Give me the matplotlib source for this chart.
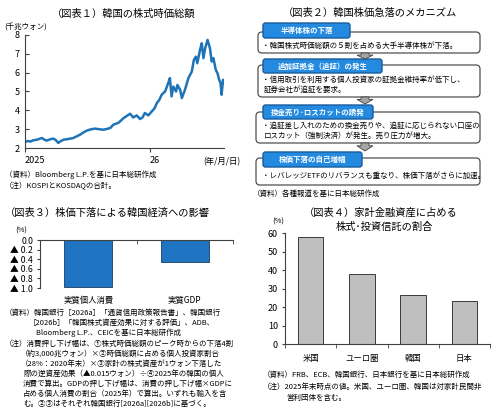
import matplotlib
matplotlib.use("Agg")
import matplotlib.pyplot as plt
from matplotlib.patches import FancyBboxPatch, Polygon
import pandas as pd

plt.rcParams['font.family'] = ['Noto Sans CJK JP', 'DejaVu Sans']
plt.rcParams['axes.linewidth'] = 0.8

# (図表1) 韓国の株式時価総額 (千兆ウォン)
cap_dates = [
    "2025-01-02", "2025-01-10", "2025-01-17", "2025-01-25", "2025-02-05", "2025-02-19",
    "2025-02-26", "2025-03-05", "2025-03-15", "2025-03-25", "2025-04-01", "2025-04-08",
    "2025-04-15", "2025-04-23", "2025-05-05", "2025-05-22", "2025-06-11", "2025-06-20",
    "2025-06-30", "2025-07-10", "2025-07-24", "2025-08-05", "2025-08-18", "2025-09-01",
    "2025-09-08", "2025-09-16", "2025-09-30", "2025-10-08", "2025-10-15", "2025-10-25",
    "2025-11-04", "2025-11-13", "2025-11-23", "2025-12-03", "2025-12-10", "2025-12-17",
    "2025-12-27", "2026-01-06", "2026-01-14", "2026-01-21", "2026-01-28", "2026-02-04",
    "2026-02-14", "2026-02-23", "2026-02-28", "2026-03-05", "2026-03-10", "2026-03-18",
    "2026-03-22", "2026-03-30", "2026-04-04", "2026-04-13", "2026-04-23", "2026-05-03",
    "2026-05-09", "2026-05-15", "2026-05-19", "2026-05-27", "2026-06-01", "2026-06-06",
    "2026-06-11", "2026-06-18", "2026-06-25", "2026-06-30", "2026-07-05", "2026-07-12",
    "2026-07-17", "2026-07-22", "2026-07-26", "2026-07-29", "2026-08-02", "2026-08-05",
]
cap_values = [
    2.33, 2.37, 2.34, 2.41, 2.44, 2.53,
    2.45, 2.39, 2.46, 2.50, 2.42, 2.27,
    2.36, 2.44, 2.47, 2.53, 2.71, 2.82,
    2.92, 2.98, 3.03, 3.00, 2.97, 3.03,
    3.08, 3.24, 3.33, 3.45, 3.58, 3.70,
    3.82, 3.62, 3.73, 3.54, 3.62, 3.86,
    3.73, 3.94, 4.10, 4.39, 4.55, 4.83,
    5.00, 5.44, 5.71, 4.74, 5.26, 5.00,
    5.35, 5.09, 4.65, 5.09, 5.71, 6.06,
    6.68, 6.85, 6.50, 7.21, 7.56, 6.77,
    7.30, 7.74, 7.30, 6.59, 6.77, 6.15,
    5.97, 5.62, 5.44, 4.83, 5.62, 5.44,
]

# (図表3) 株価下落による韓国経済への影響 (%)
impact_labels = ["実質個人消費", "実質GDP"]
impact_values = [-0.97, -0.46]
impact_ticks = [0.0, -0.2, -0.4, -0.6, -0.8, -1.0]
impact_ticklabels = ["0.0", "▲ 0.2", "▲ 0.4", "▲ 0.6", "▲ 0.8", "▲ 1.0"]

# (図表4) 家計金融資産に占める株式・投資信託の割合 (%)
share_labels = ["米国", "ユーロ圏", "韓国", "日本"]
share_values = [57.8, 37.8, 26.7, 23.5]

# (図表2) フローの各段
flow_titles = ["半導体株の下落", "追加証拠金（追証）の発生", "換金売り･ロスカットの誘発", "株価下落の自己増幅"]
flow_texts = [
    ["・韓国株式時価総額の５割を占める大手半導体株が下落。"],
    ["・信用取引を利用する個人投資家の証拠金維持率が低下し、", "証券会社が追証を要求。"],
    ["・追証差し入れのための換金売りや、追証に応じられない口座の", "ロスカット（強制決済）が発生。売り圧力が増大。"],
    ["・レバレッジETFのリバランスも重なり、株価下落がさらに加速。"],
]

W, H = 500, 415
fig = plt.figure(figsize=(W / 100, H / 100), dpi=100)


def frac(x0, y0, x1, y1):
    # pixel box -> figure fraction
    return [x0 / W, 1 - y1 / H, (x1 - x0) / W, (y1 - y0) / H]


TITLE = 7.4
NOTE = 5.4
DARK = "#404040"

# ---------- 図表1 ----------
ax1 = fig.add_axes(frac(25, 35, 224, 148))
ax1.plot(pd.to_datetime(cap_dates), cap_values, color="#1f73b7", lw=1.8)
ax1.set_ylim(2, 8)
ax1.set_xlim(pd.Timestamp("2025-01-01"), pd.Timestamp("2026-08-05"))
ax1.set_yticks(range(2, 9))
ax1.set_xticks([pd.Timestamp("2025-01-01"), pd.Timestamp("2026-01-01")])
ax1.set_xticklabels(["2025", "26"], ha="left")
ax1.tick_params(axis="y", direction="in", length=3, labelsize=6.5, pad=4, color=DARK)
ax1.tick_params(axis="x", direction="out", length=3, labelsize=6.5, pad=3, color=DARK)
for s in ["top", "right"]:
    ax1.spines[s].set_visible(False)
for s in ["left", "bottom"]:
    ax1.spines[s].set_color(DARK)

# ---------- 図表3 ----------
ax3 = fig.add_axes(frac(40, 240, 233, 288))
ax3.bar(range(len(impact_values)), impact_values, width=0.5, color="#1f74c2",
        edgecolor="#1a3d66", lw=0.6)
ax3.set_xlim(-0.5, len(impact_values) - 0.5)
ax3.set_ylim(-1.0, 0.0)
ax3.set_yticks(impact_ticks)
ax3.set_yticklabels(impact_ticklabels)
ax3.set_xticks(range(len(impact_labels)))
ax3.set_xticklabels(impact_labels)
ax3.set_xticks([-0.5, 0.5, 1.5], minor=True)
ax3.tick_params(axis="x", which="major", length=0, labelsize=6, pad=5.5)
ax3.tick_params(axis="x", which="minor", bottom=False, top=True, direction="in", length=3, color=DARK)
ax3.tick_params(axis="y", direction="out", length=2, labelsize=6.3, pad=3, color=DARK)
for s in ["bottom", "right"]:
    ax3.spines[s].set_visible(False)
for s in ["left", "top"]:
    ax3.spines[s].set_color(DARK)

# ---------- 図表4 ----------
ax4 = fig.add_axes(frac(285, 233, 490, 344))
ax4.bar(range(len(share_values)), share_values, width=0.5, color="#bfbfbf",
        edgecolor="#3a3a3a", lw=0.7)
ax4.set_xlim(-0.5, len(share_values) - 0.5)
ax4.set_ylim(0, 60)
ax4.set_yticks(range(0, 61, 10))
ax4.set_xticks(range(len(share_labels)))
ax4.set_xticklabels(share_labels)
ax4.set_xticks([i - 0.5 for i in range(len(share_labels) + 1)], minor=True)
ax4.tick_params(axis="x", which="major", length=0, labelsize=6, pad=7)
ax4.tick_params(axis="x", which="minor", direction="out", length=3, color=DARK)
ax4.tick_params(axis="y", direction="out", length=2, labelsize=6.5, pad=3, color=DARK)
for s in ["top", "right"]:
    ax4.spines[s].set_visible(False)
for s in ["left", "bottom"]:
    ax4.spines[s].set_color(DARK)

# ---------- overlay in pixel coordinates ----------
ov = fig.add_axes([0, 0, 1, 1])
ov.set_xlim(0, W)
ov.set_ylim(H, 0)
ov.axis("off")

# 図表1 texts
ov.text(124, 14, "（図表１）韓国の株式時価総額", fontsize=TITLE, ha="center", va="center")
ov.text(4, 28, "(千兆ウォン)", fontsize=NOTE, ha="left", va="center")
ov.text(203, 162, "(年/月/日)", fontsize=6, ha="left", va="center")
ov.text(5, 175, "（資料）Bloomberg L.P.を基に日本総研作成", fontsize=NOTE, ha="left", va="center")
ov.text(5, 186, "（注）KOSPIとKOSDAQの合計。", fontsize=NOTE, ha="left", va="center")

# 図表2 flow
ov.text(370, 13, "（図表２）韓国株価急落のメカニズム", fontsize=TITLE, ha="center", va="center")
boxes = [  # outer top, outer bottom, outer left, header top, header bottom, header right
    (32, 53, 258, 23, 38, 350),
    (65, 97, 258, 59, 73, 382),
    (112, 143, 256, 105, 119, 373),
    (158, 185, 256, 152, 167, 362),
]
for (ot, ob, ol, ht, hb, hr), title, lines in zip(boxes, flow_titles, flow_texts):
    ov.add_patch(FancyBboxPatch((ol, ot), 480 - ol, ob - ot,
                                boxstyle="round,pad=0,rounding_size=4",
                                fc="white", ec="#505050", lw=0.9))
    ov.add_patch(FancyBboxPatch((263, ht), hr - 263, hb - ht,
                                boxstyle="round,pad=0,rounding_size=2.5",
                                fc="#238ae0", ec="#1a5c9c", lw=1.0))
    ov.text((263 + hr) / 2, (ht + hb) / 2, title, fontsize=NOTE, color="white",
            fontweight="bold", ha="center", va="center")
    n = len(lines)
    y0 = hb + (ob - hb) / 2 - (n - 1) * 5
    for i, ln in enumerate(lines):
        ov.text(262 if ln.startswith("・") else 264, y0 + i * 10, ln,
                fontsize=NOTE, ha="left", va="center")

for ya, yb in [(53, 59), (97, 104), (143, 151)]:
    cx = 365
    mid = ya + (yb - ya) * 0.35
    ov.add_patch(Polygon([(cx - 4, ya), (cx + 4, ya), (cx + 4, mid), (cx + 8, mid),
                          (cx, yb), (cx - 8, mid), (cx - 4, mid)], closed=True,
                         fc="#a6a6a6", ec="#404040", lw=0.6, zorder=3))
ov.text(253, 194, "（資料）各種報道を基に日本総研作成", fontsize=NOTE, ha="left", va="center")

# 図表3 texts
ov.text(5, 213, "（図表３）株価下落による韓国経済への影響", fontsize=TITLE, ha="left", va="center")
ov.text(15, 231, "(%)", fontsize=NOTE, ha="left", va="center")
notes3 = [
    (5, 313, "（資料）韓国銀行［2026a］「通貨信用政策報告書」、韓国銀行"),
    (29, 323, "［2026b］「韓国株式資産効果に対する評価」、ADB、"),
    (36, 333, "Bloomberg L.P.、CEICを基に日本総研作成"),
    (5, 343.5, "（注）消費押し下げ幅は、①株式時価総額のピーク時からの下落4割"),
    (21, 353.5, "（約3,000兆ウォン）×②時価総額に占める個人投資家割合"),
    (21, 363.5, "（28%：2020年末）×③家計の株式資産が1ウォン下落した"),
    (23, 373.5, "際の逆資産効果（▲0.015ウォン）÷④2025年の韓国の個人"),
    (23, 383.5, "消費で算出。GDPの押し下げ幅は、消費の押し下げ幅×GDPに"),
    (23, 393.5, "占める個人消費の割合（2025年）で算出。いずれも輸入を含"),
    (23, 404, "む。②③はそれぞれ韓国銀行[2026a][2026b]に基づく。"),
]
for x, y, t in notes3:
    ov.text(x, y, t, fontsize=NOTE, ha="left", va="center")

# 図表4 texts
ov.text(381, 213, "（図表４）家計金融資産に占める", fontsize=TITLE, ha="center", va="center")
ov.text(384, 227, "株式･投資信託の割合", fontsize=TITLE, ha="center", va="center")
ov.text(272, 222, "(%)", fontsize=NOTE, ha="left", va="center")
ov.text(263, 375, "（資料）FRB、ECB、韓国銀行、日本銀行を基に日本総研作成", fontsize=NOTE, ha="left", va="center")
ov.text(263, 387, "（注）2025年末時点の値。米国、ユーロ圏、韓国は対家計民間非", fontsize=NOTE, ha="left", va="center")
ov.text(286, 398, "営利団体を含む。", fontsize=NOTE, ha="left", va="center")

fig.savefig("out.png", dpi=100)
